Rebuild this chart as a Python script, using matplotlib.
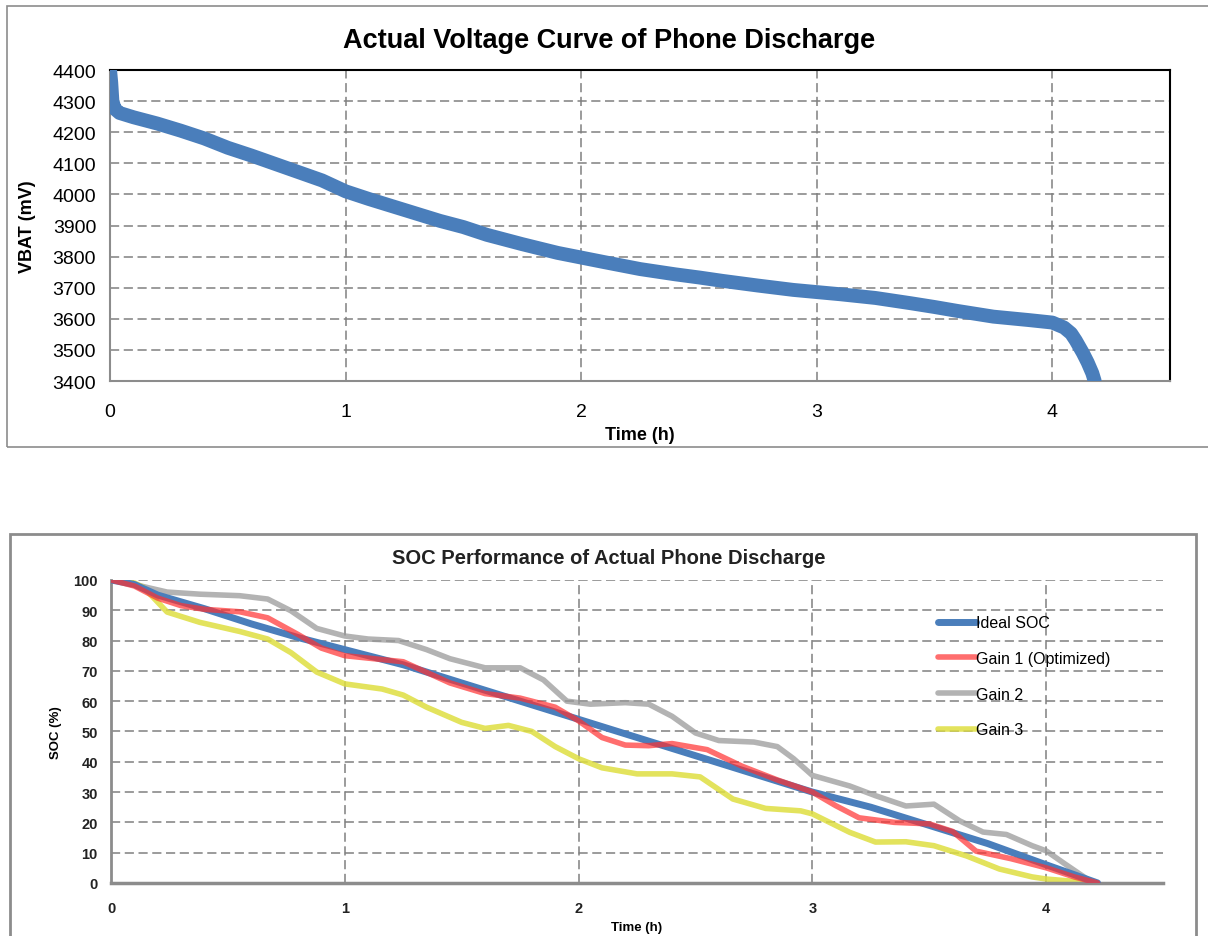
import matplotlib.pyplot as plt
from matplotlib.patches import Rectangle

plt.rcParams['font.family'] = ['Liberation Sans', 'DejaVu Sans']

# top chart: battery voltage (h, mV)
t_volt = [0.0, 0.005, 0.01, 0.02, 0.04, 0.07, 0.1, 0.2, 0.3, 0.4, 0.5, 0.6, 0.75,
          0.9, 1.0, 1.1, 1.25, 1.4, 1.5, 1.6, 1.75, 1.9, 2.0, 2.1, 2.25, 2.4,
          2.5, 2.6, 2.75, 2.9, 3.0, 3.1, 3.25, 3.4, 3.5, 3.6, 3.75, 3.9, 4.0,
          4.05, 4.08, 4.1, 4.13, 4.15, 4.17, 4.18]
vbat = [4400, 4360, 4300, 4275, 4262, 4255, 4248, 4228, 4205, 4180, 4150, 4125, 4085,
        4045, 4010, 3985, 3950, 3915, 3895, 3870, 3840, 3812, 3797, 3782, 3760, 3743,
        3733, 3722, 3707, 3693, 3686, 3679, 3667, 3650, 3638, 3625, 3607, 3596, 3588,
        3572, 3553, 3530, 3490, 3460, 3425, 3400]

# bottom chart: SOC estimates (h, %)
t_ideal = [0.0, 0.1, 0.2, 0.4, 0.6, 0.8, 1.0, 1.25, 1.5, 1.75, 2.0, 2.25, 2.5, 2.75,
           3.0, 3.25, 3.5, 3.75, 4.0, 4.22]
soc_ideal = [100, 98.5, 95, 90.5, 85.5, 81, 77, 72, 66, 60, 54, 48, 42, 36,
             30, 25, 19, 13, 6, 0]

t_gain1 = [0.0, 0.1, 0.2, 0.3, 0.4, 0.55, 0.67, 0.8, 0.9, 1.0, 1.1, 1.25, 1.35, 1.45,
           1.6, 1.75, 1.9, 2.0, 2.1, 2.2, 2.3, 2.4, 2.55, 2.7, 2.85, 3.0, 3.1, 3.2,
           3.35, 3.5, 3.6, 3.7, 3.85, 4.0, 4.12, 4.22]
soc_gain1 = [100, 98, 94, 91.5, 90.3, 89.5, 87.5, 82, 77.5, 75, 74.2, 73, 69.5, 66,
             62.5, 61, 58, 53.5, 48, 45.5, 45.3, 46, 44, 38.5, 34, 30, 25.5, 21.5,
             20, 19.5, 17, 10.5, 8, 5, 2, 0]

t_gain2 = [0.0, 0.1, 0.24, 0.38, 0.55, 0.67, 0.77, 0.88, 1.0, 1.1, 1.23, 1.35, 1.45,
           1.6, 1.75, 1.85, 1.95, 2.05, 2.2, 2.3, 2.4, 2.5, 2.6, 2.75, 2.85, 2.92,
           3.0, 3.16, 3.27, 3.4, 3.52, 3.63, 3.73, 3.83, 3.94, 4.0, 4.08, 4.2]
soc_gain2 = [100, 98.5, 96, 95.3, 94.8, 93.7, 89.8, 84, 81.5, 80.5, 80, 77, 74,
             71, 71, 67, 60, 59, 59.5, 59, 55, 49.5, 47, 46.5, 45, 41,
             35.5, 32, 28.8, 25.4, 26, 20.5, 16.8, 16, 12.3, 10.6, 6.3, 0]

t_gain3 = [0.0, 0.1, 0.14, 0.24, 0.38, 0.55, 0.67, 0.77, 0.88, 1.0, 1.16, 1.25, 1.35,
           1.5, 1.6, 1.7, 1.8, 1.9, 2.0, 2.1, 2.25, 2.4, 2.52, 2.66, 2.8, 2.95,
           3.0, 3.16, 3.27, 3.4, 3.52, 3.66, 3.8, 3.94, 4.0, 4.2]
soc_gain3 = [100, 99, 97.5, 89.4, 86, 83, 80.5, 76, 69.6, 65.7, 64, 62, 58,
             53, 51, 52, 50, 45, 41, 38, 36, 36, 35, 27.7, 24.6, 23.8,
             22.8, 16.7, 13.5, 13.6, 12.3, 8.9, 4.6, 2, 1.3, 0]

grid_kw = dict(color='#808080', linestyle=(0, (6, 3)), linewidth=1.1)
line_kw = dict(solid_joinstyle='round', solid_capstyle='round')

fig = plt.figure(figsize=(12.08, 9.37), dpi=100)

# outer chart frames
fig.patches.append(Rectangle((7 / 1208, 0.5219), 1.01, 0.4707, transform=fig.transFigure,
                             fill=False, edgecolor='#8c8c8c', linewidth=1.2))
fig.patches.append(Rectangle((10 / 1208, -0.02), 1195 / 1208 - 10 / 1208 + 0.001, 0.449,
                             transform=fig.transFigure, fill=False,
                             edgecolor='#8c8c8c', linewidth=2))

# ---- top chart
ax1 = fig.add_axes([0.0911, 0.5923, 0.8775, 0.3319])
ax1.plot(t_volt, vbat, color='#4a7ebb', linewidth=10, zorder=3, **line_kw)
ax1.set_xlim(0, 4.5)
ax1.set_ylim(3400, 4400)
ax1.set_xticks([0, 1, 2, 3, 4])
ax1.set_yticks(range(3400, 4401, 100))
ax1.grid(True, **grid_kw)
ax1.tick_params(axis='y', length=0, labelsize=14, pad=10)
ax1.tick_params(axis='x', length=0, labelsize=14, pad=16)
for s in ['top', 'right']:
    ax1.spines[s].set_color('black')
    ax1.spines[s].set_linewidth(1.5)
for s in ['left', 'bottom']:
    ax1.spines[s].set_color('#8c8c8c')
    ax1.spines[s].set_linewidth(1.5)
fig.text(0.504, 0.956, 'Actual Voltage Curve of Phone Discharge', fontsize=19.5,
         fontweight='bold', ha='center', va='center')
ax1.set_xlabel('Time (h)', fontsize=13, fontweight='bold', labelpad=4)
ax1.set_ylabel('VBAT (mV)', fontsize=13, fontweight='bold', labelpad=12)

# ---- bottom chart
ax2 = fig.add_axes([0.0919, 0.0566, 0.8709, 0.3234])
ax2.plot(t_ideal, soc_ideal, color='#4a7ebb', linewidth=5, label='Ideal SOC', zorder=3,
         **line_kw)
ax2.plot(t_gain1, soc_gain1, color='#ff3030', alpha=0.7, linewidth=4,
         label='Gain 1 (Optimized)', zorder=4, **line_kw)
ax2.plot(t_gain2, soc_gain2, color='#9a9a9a', alpha=0.75, linewidth=4, label='Gain 2',
         zorder=2, **line_kw)
ax2.plot(t_gain3, soc_gain3, color='#dede40', alpha=0.85, linewidth=4, label='Gain 3',
         zorder=2, **line_kw)
ax2.set_xlim(0, 4.5)
ax2.set_ylim(0, 100)
ax2.set_xticks([0, 1, 2, 3, 4])
ax2.set_yticks(range(0, 101, 10))
ax2.grid(True, **grid_kw)
ax2.tick_params(axis='x', length=0, labelsize=10.5, pad=13)
ax2.tick_params(axis='y', length=0, labelsize=10.5, pad=9.5)
for lab in ax2.get_xticklabels() + ax2.get_yticklabels():
    lab.set_fontweight('bold')
    lab.set_color('#222222')
ax2.spines['top'].set_visible(False)
ax2.spines['right'].set_visible(False)
ax2.spines['left'].set_color('#8c8c8c')
ax2.spines['left'].set_linewidth(2)
ax2.spines['bottom'].set_color('#8c8c8c')
ax2.spines['bottom'].set_linewidth(2.5)
fig.text(0.504, 0.4035, 'SOC Performance of Actual Phone Discharge', fontsize=14.5,
         fontweight='bold', ha='center', va='center', color='#222222')
ax2.set_xlabel('Time (h)', fontsize=9.5, fontweight='bold', labelpad=4)
ax2.set_ylabel('SOC (%)', fontsize=9.5, fontweight='bold', labelpad=8)
ax2.legend(loc='upper left', bbox_to_anchor=(0.78, 0.905), frameon=False, fontsize=11.5,
           handlelength=2.4, handletextpad=0.0, labelspacing=1.3, borderaxespad=0)

fig.savefig('out.png', dpi=100)
